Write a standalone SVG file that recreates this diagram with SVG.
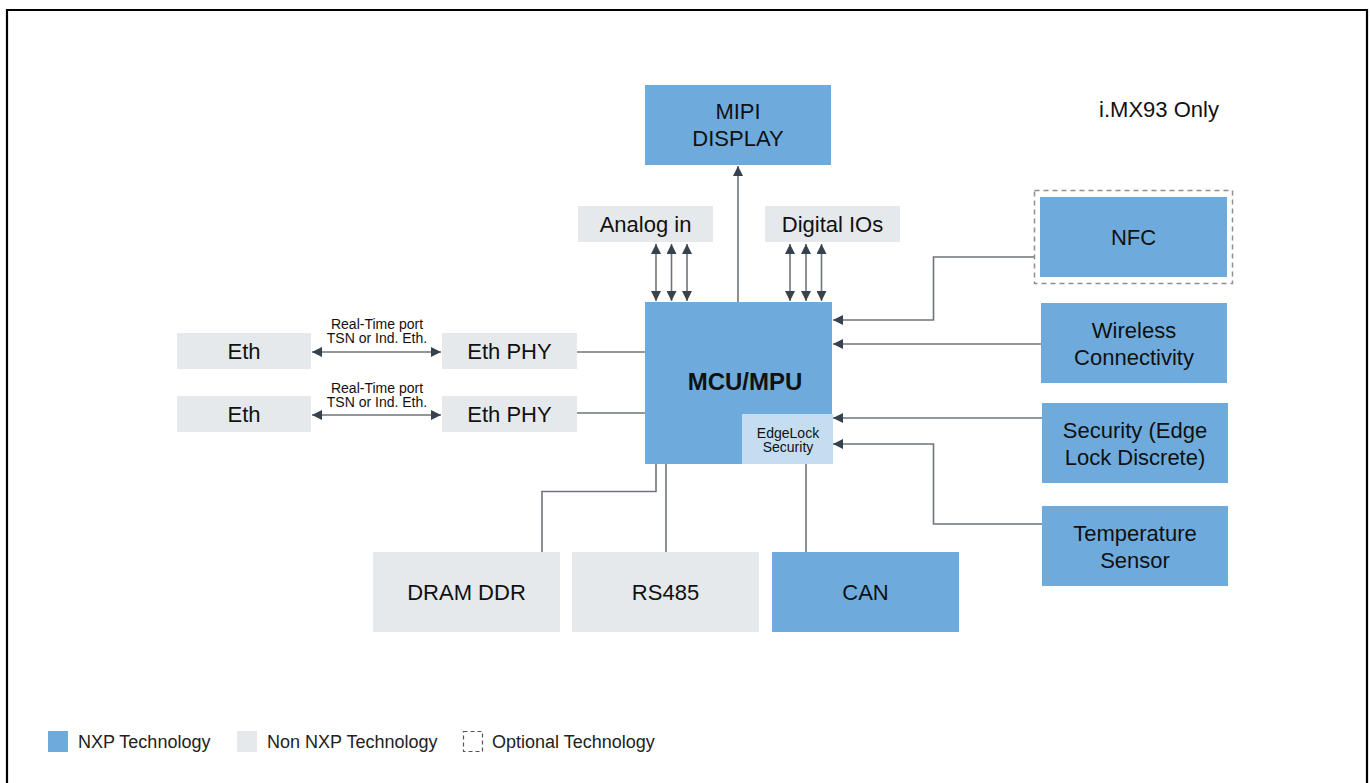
<svg xmlns="http://www.w3.org/2000/svg" width="1370" height="783" viewBox="0 0 1370 783">
<style>
.nxp{fill:#6eabdc}
.non{fill:#e5e9ec}
.lt{fill:#c5ddf1}
.t{font-family:"Liberation Sans",Arial,sans-serif;font-size:22px;fill:#111;text-anchor:middle}
.b{font-family:"Liberation Sans",Arial,sans-serif;font-size:24px;font-weight:bold;fill:#111;text-anchor:middle}
.s{font-family:"Liberation Sans",Arial,sans-serif;font-size:14px;fill:#111;text-anchor:middle}
.lg{font-family:"Liberation Sans",Arial,sans-serif;font-size:18px;fill:#222}
.ln{fill:none;stroke:#6e747a;stroke-width:1.6}
.da{fill:none;stroke:#8a8f94;stroke-width:1.5;stroke-dasharray:5,4}
</style>
<defs>
<marker id="ah" viewBox="0 0 10 10" refX="10" refY="5" markerWidth="10" markerHeight="10" markerUnits="userSpaceOnUse" orient="auto-start-reverse">
<path d="M0,0 L10,5 L0,10 z" fill="#36424e"/>
</marker>
</defs>
<rect x="0" y="0" width="1370" height="783" fill="#fff"/>
<path d="M7,790 V10 H1367 V790" fill="none" stroke="#000" stroke-width="2.2"/>

<g id="connectors">
<line class="ln" x1="738" y1="302" x2="738" y2="166" marker-end="url(#ah)"/>
<line class="ln" x1="656" y1="244" x2="656" y2="301" marker-start="url(#ah)" marker-end="url(#ah)"/>
<line class="ln" x1="671.5" y1="244" x2="671.5" y2="301" marker-start="url(#ah)" marker-end="url(#ah)"/>
<line class="ln" x1="687" y1="244" x2="687" y2="301" marker-start="url(#ah)" marker-end="url(#ah)"/>
<line class="ln" x1="790" y1="244" x2="790" y2="301" marker-start="url(#ah)" marker-end="url(#ah)"/>
<line class="ln" x1="806" y1="244" x2="806" y2="301" marker-start="url(#ah)" marker-end="url(#ah)"/>
<line class="ln" x1="821.5" y1="244" x2="821.5" y2="301" marker-start="url(#ah)" marker-end="url(#ah)"/>
<polyline class="ln" points="1034,257 933.5,257 933.5,320 833,320" marker-end="url(#ah)"/>
<line class="ln" x1="1041" y1="344" x2="833" y2="344" marker-end="url(#ah)"/>
<line class="ln" x1="1042" y1="418" x2="833" y2="418" marker-end="url(#ah)"/>
<polyline class="ln" points="1042,524 933.5,524 933.5,444 833,444" marker-end="url(#ah)"/>
<line class="ln" x1="312" y1="352" x2="441" y2="352" marker-start="url(#ah)" marker-end="url(#ah)"/>
<line class="ln" x1="312" y1="415" x2="441" y2="415" marker-start="url(#ah)" marker-end="url(#ah)"/>
<line class="ln" x1="577" y1="352" x2="645" y2="352"/>
<line class="ln" x1="577" y1="413" x2="645" y2="413"/>
<polyline class="ln" points="656,464 656,491.5 542,491.5 542,552"/>
<line class="ln" x1="666" y1="464" x2="666" y2="552"/>
<line class="ln" x1="806" y1="464" x2="806" y2="552"/>
</g>

<g id="mipi"><rect class="nxp" x="645" y="85" width="186" height="80"/><text class="t" x="738" y="119">MIPI</text><text class="t" x="738" y="146">DISPLAY</text></g>
<g id="analog"><rect class="non" x="578" y="206" width="135" height="36"/><text class="t" x="645.5" y="232">Analog in</text></g>
<g id="digital"><rect class="non" x="765" y="206" width="135" height="36"/><text class="t" x="832.5" y="232">Digital IOs</text></g>
<g id="mcu"><rect class="nxp" x="645" y="302" width="187" height="162"/><text class="b" x="745" y="390">MCU/MPU</text></g>
<g id="edgelock"><rect class="lt" x="742" y="414" width="91" height="50"/><text class="s" x="788" y="438">EdgeLock</text><text class="s" x="788" y="452">Security</text></g>
<g id="note"><text class="t" x="1159" y="117">i.MX93 Only</text></g>
<g id="nfc"><rect class="da" x="1034.5" y="190.5" width="198" height="93"/><rect class="nxp" x="1040" y="197" width="187" height="80"/><text class="t" x="1133.5" y="245">NFC</text></g>
<g id="wireless"><rect class="nxp" x="1041" y="303" width="186" height="80"/><text class="t" x="1134" y="338">Wireless</text><text class="t" x="1134" y="365">Connectivity</text></g>
<g id="security"><rect class="nxp" x="1042" y="403" width="186" height="80"/><text class="t" x="1135" y="438">Security (Edge</text><text class="t" x="1135" y="465">Lock Discrete)</text></g>
<g id="temp"><rect class="nxp" x="1042" y="506" width="186" height="80"/><text class="t" x="1135" y="541">Temperature</text><text class="t" x="1135" y="568">Sensor</text></g>
<g id="eth1"><rect class="non" x="177" y="333" width="134" height="36"/><text class="t" x="244" y="359">Eth</text></g>
<g id="eth2"><rect class="non" x="177" y="396" width="134" height="36"/><text class="t" x="244" y="422">Eth</text></g>
<g id="phy1"><rect class="non" x="442" y="333" width="135" height="36"/><text class="t" x="509.5" y="359">Eth PHY</text></g>
<g id="phy2"><rect class="non" x="442" y="396" width="135" height="36"/><text class="t" x="509.5" y="422">Eth PHY</text></g>
<g id="lbl1"><text class="s" x="377" y="329">Real-Time port</text><text class="s" x="377" y="343">TSN or Ind. Eth.</text></g>
<g id="lbl2"><text class="s" x="377" y="393">Real-Time port</text><text class="s" x="377" y="407">TSN or Ind. Eth.</text></g>
<g id="dram"><rect class="non" x="373" y="552" width="187" height="80"/><text class="t" x="466.5" y="600">DRAM DDR</text></g>
<g id="rs485"><rect class="non" x="572" y="552" width="187" height="80"/><text class="t" x="665.5" y="600">RS485</text></g>
<g id="can"><rect class="nxp" x="772" y="552" width="187" height="80"/><text class="t" x="865.5" y="600">CAN</text></g>

<g id="legend">
<rect class="nxp" x="48" y="731" width="20" height="21"/><text class="lg" x="78" y="748">NXP Technology</text>
<rect class="non" x="237" y="731" width="20" height="21"/><text class="lg" x="267" y="748">Non NXP Technology</text>
<rect x="463.5" y="731.5" width="19" height="20" fill="none" stroke="#555" stroke-width="1.2" stroke-dasharray="4,3"/><text class="lg" x="492" y="748">Optional Technology</text>
</g>
</svg>
